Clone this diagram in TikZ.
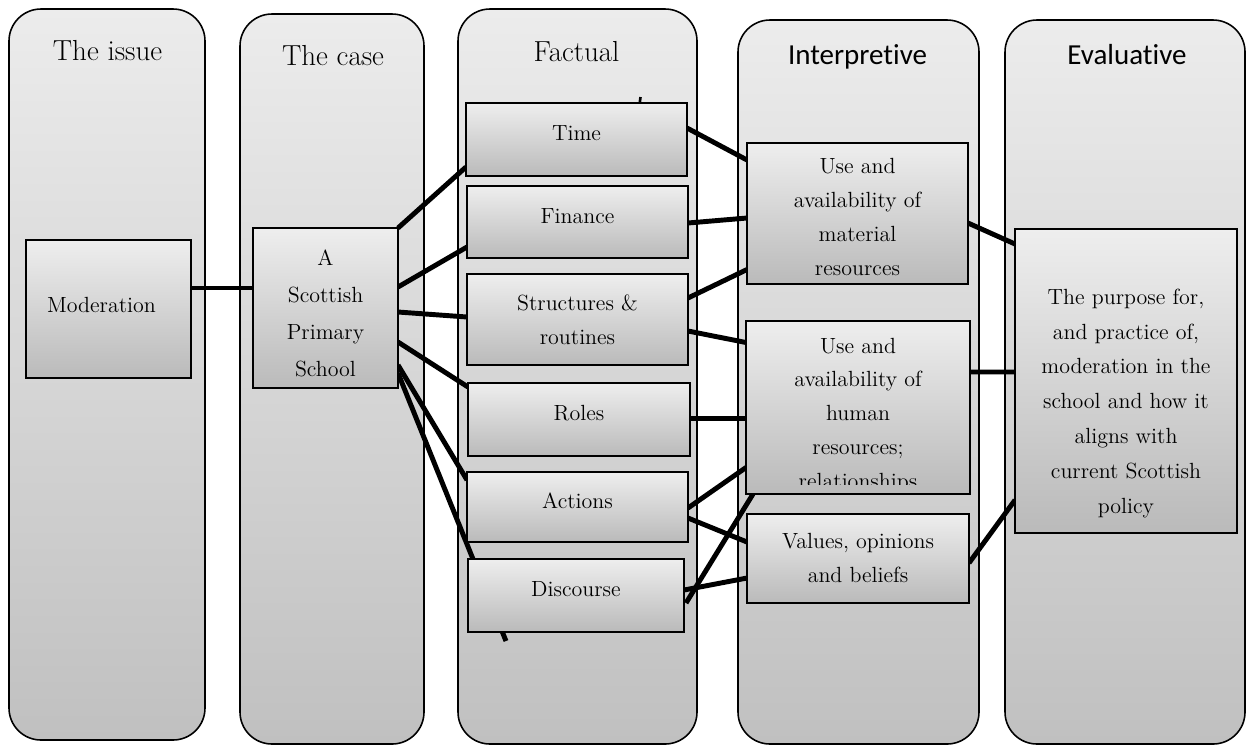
\documentclass[tikz,border=0pt]{standalone}
\usepackage{fontspec}
\newfontfamily\hdsansfont[Ligatures=NoCommon]{Carlito}
\usetikzlibrary{calc,fit,backgrounds}

\definecolor{coltop}{RGB}{236,236,236}
\definecolor{colbot}{RGB}{192,192,192}
\definecolor{boxtop}{RGB}{238,238,238}
\definecolor{boxbot}{RGB}{186,186,186}

\tikzset{
 column/.style={draw=black,line width=0.9pt,rounded corners=0.64cm,top color=coltop,bottom color=colbot},
 wbox/.style={draw=black,line width=1.2pt,inner sep=0pt,outer sep=0pt,top color=boxtop,bottom color=boxbot},
 wtxt/.style={font=\fontsize{12.5}{19.2}\selectfont,align=center,inner sep=0pt,anchor=base},
 hdserif/.style={font=\fontsize{16.5}{20}\selectfont,inner sep=0pt,anchor=base},
 hdsans/.style={font=\hdsansfont\fontsize{16.5}{20}\selectfont,inner sep=0pt,anchor=base},
 link/.style={line width=2.8pt},
}

\begin{document}
\begin{tikzpicture}[x=0.02cm,y=-0.02cm]
 \useasboundingbox (0,0) rectangle (1246,745);

 \node[hdserif] (issue) at (107.5,60) {The issue};
 \node[hdserif] (case) at (333,65) {The case};
 \node[hdserif] (factual) at (576.5,61) {Factual};
 \node[hdsans] (interp) at (857.5,64) {Interpretive};
 \node[hdsans] (evalu) at (1127,64) {Evaluative};

 \node[wbox,fit={(26,240) (191,378)}] (mod) {};
 \node[wbox,fit={(253,228) (398,388)}] (school) {};
 \node[wbox,fit={(466,103) (687,176)}] (time) {};
 \node[wbox,fit={(467,186) (688,258)}] (finance) {};
 \node[wbox,fit={(467,274) (688,365)}] (struct) {};
 \node[wbox,fit={(468,383) (690,456)}] (roles) {};
 \node[wbox,fit={(467,472) (688,542)}] (actions) {};
 \node[wbox,fit={(468,559) (684,632)}] (disc) {};
 \node[wbox,fit={(747,143) (968,284)}] (material) {};
 \node[wbox,fit={(746,321) (970,494)}] (human) {};
 \node[wbox,fit={(747,514) (969,603)}] (values) {};
 \node[wbox,fit={(1015,229) (1237,533)}] (purpose) {};

 \node[wtxt] (modtxt) at (101.5,312) {Moderation};
 \node[wtxt,font=\fontsize{12.5}{21}\selectfont] (schooltxt) at (325.5,376) {A\\Scottish\\Primary\\School};
 \node[wtxt] (timetxt) at (576.5,140) {Time};
 \node[wtxt] (financetxt) at (577.5,223) {Finance};
 \node[wtxt] (structtxt) at (577.5,344) {Structures \&\\routines};
 \node[wtxt] (rolestxt) at (579,420) {Roles};
 \node[wtxt] (actionstxt) at (577.5,508) {Actions};
 \node[wtxt] (disctxt) at (576,596) {Discourse};
 \node[wtxt] (materialtxt) at (857.5,275) {Use and\\availability of\\material\\resources};
 \begin{scope}
  \clip (746,321) rectangle (970,484);
  \node[wtxt] (humantxt) at (858,488) {Use and\\availability of\\human\\resources;\\relationships};
 \end{scope}
 \node[wtxt] (valuestxt) at (858,582) {Values, opinions\\and beliefs};
 \node[wtxt,font=\fontsize{12.5}{19.8}\selectfont] (purposetxt) at (1126,513) {The purpose for,\\and practice of,\\moderation in the\\school and how it\\aligns with\\current Scottish\\policy};

 \coordinate (disctail) at (506,641);
 \begin{scope}[on background layer]
  \draw[column] (9,9) rectangle (205,740);
  \draw[column] (240,14) rectangle (424,744);
  \draw[column] (458,9) rectangle (697,744);
  \draw[column] (738,20) rectangle (979,744);
  \draw[column] (1005,20) rectangle (1245,744);

  \draw[link] ($(mod.east)+(0,-21)$) -- ($(school.west)+(0,-20)$);
  \draw[link] (school.north east) -- ($(time.west)+(0,27.5)$);
  \draw[link] ($(school.east)+(0,-21)$) -- ($(finance.west)+(0,25)$);
  \draw[link] ($(school.east)+(0,4)$) -- ($(struct.west)+(0,-2.5)$);
  \draw[link] ($(school.east)+(0,34)$) -- ($(roles.west)+(0,-32.5)$);
  \draw[link] ($(school.east)+(0,57)$) -- ($(actions.west)+(0,-27)$);
  \draw[link] ($(school.east)+(0,65)$) -- (disctail);
  \draw[line width=1.5pt] ($(time.north)+(62.5,6)$) -- ($(time.north)+(64,-6)$);

  \draw[link] ($(time.east)+(0,-11.5)$) -- ($(material.west)+(0,-53.5)$);
  \draw[link] ($(finance.east)+(0,1)$) -- ($(material.west)+(0,4.5)$);
  \draw[link] ($(struct.east)+(0,-21.5)$) -- ($(material.west)+(0,56)$);
  \draw[link] ($(struct.east)+(0,11.5)$) -- ($(human.west)+(0,-65)$);
  \draw[link] ($(roles.east)+(0,-1)$) -- ($(human.west)+(0,11)$);
  \draw[link] ($(actions.east)+(0,1)$) -- ($(human.west)+(0,60)$);
  \draw[link] ($(actions.east)+(0,11)$) -- ($(values.west)+(0,-16.5)$);
  \draw[link] ($(disc.east)+(0,-5.5)$) -- ($(values.west)+(0,19.5)$);
  \draw[link] ($(disc.east)+(2,7.5)$) -- ($(human.south)+(-105,0)$);

  \draw[link] ($(material.east)+(0,9.5)$) -- ($(purpose.west)+(0,-137)$);
  \draw[link] ($(human.east)+(0,-35.5)$) -- ($(purpose.west)+(0,-9)$);
  \draw[link] ($(values.east)+(0,4.5)$) -- ($(purpose.west)+(0,119)$);
 \end{scope}
\end{tikzpicture}
\end{document}
